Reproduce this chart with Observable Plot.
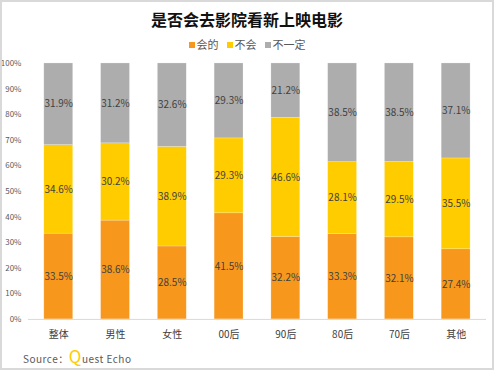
<!DOCTYPE html>
<html><head><meta charset="utf-8">
<script src="https://cdn.jsdelivr.net/npm/d3@7"></script>
<script src="https://cdn.jsdelivr.net/npm/@observablehq/plot@0.6"></script>
<style>
html,body{margin:0;padding:0;background:#fff;}
#frame{position:relative;width:490px;height:366px;border:2px solid #d9d9d9;overflow:hidden;font-family:"Noto Sans CJK SC","Noto Sans",sans-serif;}
#title{position:absolute;left:0;top:7px;width:490px;text-align:center;font-size:16px;font-weight:bold;color:#111;line-height:20px;}
#legend{position:absolute;left:0;top:34px;width:490px;text-align:center;font-size:11px;color:#595959;line-height:16px;}
#legend span.sw{display:inline-block;width:6px;height:6px;margin-right:2px;vertical-align:middle;position:relative;top:-1px;}
#legend span.it{margin:0 4px;}
#chart{position:absolute;left:-2px;top:52px;}
#source{position:absolute;left:21px;top:344px;font-size:10px;line-height:20px;color:#595959;letter-spacing:0.5px;white-space:nowrap;}
#source .q{color:#ffcc00;font-size:17px;line-height:20px;}
</style></head>
<body><div id="frame">
<div id="title"></div>
<div id="legend"></div>
<div id="chart"></div>
<div id="source">Source：<span class="q">Q</span>uest Echo</div>
</div>
<script>
const titleText = "是否会去影院看新上映电影";
const categories = ["整体","男性","女性","00后","90后","80后","70后","其他"];
const seriesNames = ["会的","不会","不一定"];
const colors = ["#f7981d","#ffcc00","#adadad"];
const willGo = [33.5,38.6,28.5,41.5,32.2,33.3,32.1,27.4];
const wontGo = [34.6,30.2,38.9,29.3,46.6,28.1,29.5,35.5];
const unsure = [31.9,31.2,32.6,29.3,21.2,38.5,38.5,37.1];
const yTicks = [0,0.1,0.2,0.3,0.4,0.5,0.6,0.7,0.8,0.9,1];

document.getElementById("title").textContent = titleText;
document.getElementById("legend").innerHTML = seriesNames.map((s,i)=>
  `<span class="it"><span class="sw" style="background:${colors[i]}"></span>${s}</span>`).join("");

const seriesVals = [willGo, wontGo, unsure];
const data = [];
seriesNames.forEach((s,si)=>categories.forEach((c,ci)=>data.push({cat:c, series:s, value:seriesVals[si][ci]})));

const stackOpts = {x:"cat", y:"value", z:"series", order: seriesNames, offset:"normalize"};
const chart = Plot.plot({
  width: 494, height: 294,
  marginLeft: 28, marginRight: 6, marginTop: 9, marginBottom: 28,
  style:{fontFamily:'"Noto Sans CJK SC","Noto Sans",sans-serif', background:"transparent"},
  x:{domain:categories, paddingInner:0.5, paddingOuter:0.25, label:null},
  y:{domain:[0,1], label:null},
  color:{domain:seriesNames, range:colors},
  marks:[
    Plot.barY(data, Plot.stackY({...stackOpts, fill:"series", stroke:"#fff", strokeOpacity:0.35, strokeWidth:0.6})),
    Plot.text(data, Plot.stackY({...stackOpts, text:d=>d.value.toFixed(1)+"%", fill:"#404040", fontSize:10})),
    Plot.ruleY([0], {stroke:"#d9d9d9"}),
    Plot.axisX({tickSize:0, tickPadding:12, fontSize:10, fill:"#404040", label:null}),
    Plot.axisY({ticks:yTicks, tickFormat:d3.format(".0%"), tickSize:0, tickPadding:7, fontSize:8, fill:"#595959", label:null})
  ]
});
document.getElementById("chart").appendChild(chart);
</script>
</body></html>
